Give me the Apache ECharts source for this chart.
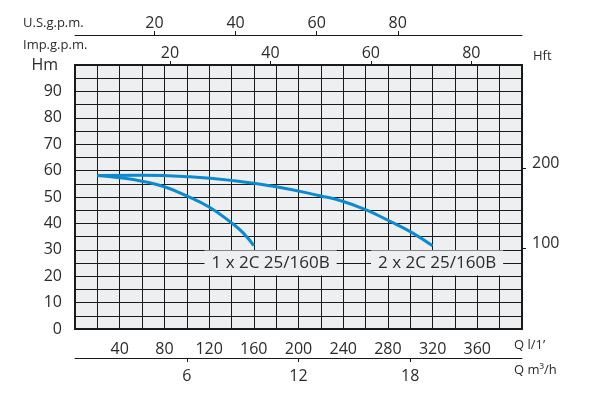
<!DOCTYPE html>
<html>
<head>
<meta charset="utf-8">
<script src="https://cdn.jsdelivr.net/npm/echarts@6/dist/echarts.min.js"></script>
<style>
  html, body { margin: 0; padding: 0; background: #fff; }
  #main { width: 591px; height: 397px; }
</style>
</head>
<body>
<div id="main"></div>
<script>
// 泵曲线数据 (Q 单位 l/min, H 单位 m)
const flow1 = [20, 40, 60, 80, 100, 120, 140, 150, 160]
const head1 = [58.1, 57.3, 56.0, 53.9, 50.4, 46.2, 40.2, 36.6, 31.6]
const flow2 = [20, 60, 100, 140, 180, 220, 240, 260, 280, 300, 320]
const head2 = [58.1, 58.2, 57.7, 56.3, 53.9, 50.4, 48.3, 45.2, 41.2, 36.9, 31.5]

const curveNames = ['1 x 2C 25/160B', '2 x 2C 25/160B']
const labelFlow = [175, 324]
const labelHead = 25

const m3hTicks = [6, 12, 18]
const impTicks = [20, 40, 60, 80]
const usTicks = [20, 40, 60, 80]
const hftTicks = [100, 200]

const font = 'Open Sans'
const textColor = '#2b2b2b'
const lineColor = '#1a1a1a'
const gridFill = '#eeeff1'
const blue = '#0a8ad0'

const pairs = (xs, ys) => xs.map((x, i) => [x, ys[i]])

let myChart = echarts.init(document.getElementById('main'))

const baseLabel = { fontFamily: font, fontSize: 16, color: textColor }
const axLine = { show: true, onZero: false, lineStyle: { color: lineColor, width: 1 } }

let option = {
  animation: false,
  grid: {
    left: 75, right: 69, top: 65, bottom: 68,
    show: true,
    backgroundColor: gridFill,
    borderColor: lineColor,
    borderWidth: 2,
  },
  xAxis: [
    {
      // l/min
      type: 'value', position: 'bottom', min: 0, max: 400, interval: 20,
      axisLine: { show: false, onZero: false }, axisTick: { show: false },
      splitLine: { show: true, lineStyle: { color: lineColor, width: 1 } },
      axisLabel: Object.assign({}, baseLabel, {
        margin: 12,
        formatter: (v) => (v % 40 === 0 && v > 0 && v < 400 ? v : ''),
      }),
    },
    {
      // m3/h
      type: 'value', position: 'bottom', offset: 29, min: 0, max: 24,
      axisLine: axLine,
      axisTick: { show: true, customValues: m3hTicks, length: 4, lineStyle: { color: lineColor } },
      splitLine: { show: false },
      axisLabel: Object.assign({}, baseLabel, { customValues: m3hTicks, margin: 10 }),
    },
    {
      // Imp.g.p.m.
      type: 'value', position: 'top', min: 1.08, max: 90.1,
      axisLine: { show: false, onZero: false },
      axisTick: { show: true, customValues: impTicks, length: 4, lineStyle: { color: lineColor } },
      splitLine: { show: false },
      axisLabel: Object.assign({}, baseLabel, { customValues: impTicks, margin: 4 }),
    },
    {
      // U.S.g.p.m.
      type: 'value', position: 'top', offset: 30, min: 0.39, max: 110.64,
      axisLine: axLine,
      axisTick: { show: true, customValues: usTicks, length: 4, lineStyle: { color: lineColor } },
      splitLine: { show: false },
      axisLabel: Object.assign({}, baseLabel, { customValues: usTicks, margin: 4 }),
    },
  ],
  yAxis: [
    {
      type: 'value', position: 'left', min: 0, max: 100, interval: 5,
      axisLine: { show: false, onZero: false }, axisTick: { show: false },
      splitLine: { show: true, lineStyle: { color: lineColor, width: 1 } },
      axisLabel: Object.assign({}, baseLabel, {
        margin: 13,
        formatter: (v) => (v === 100 ? '{h|Hm}' : v % 10 === 0 ? v : ''),
        rich: { h: { fontFamily: font, fontSize: 16, color: textColor, padding: [0, 4, 0, 0] } },
      }),
    },
    {
      // Hft
      type: 'value', position: 'right', min: 0, max: 328.084,
      axisLine: { show: false, onZero: false },
      axisTick: { show: true, customValues: hftTicks, length: 4, lineStyle: { color: lineColor } },
      splitLine: { show: false },
      axisLabel: Object.assign({}, baseLabel, {
        customValues: hftTicks, margin: 10, verticalAlign: 'bottom', lineHeight: 10,
      }),
    },
  ],
  graphic: [
    { type: 'text', left: 23, top: 17, style: { text: 'U.S.g.p.m.', font: '13px "Open Sans"', fill: textColor } },
    { type: 'text', left: 23, top: 39, style: { text: 'Imp.g.p.m.', font: '13px "Open Sans"', fill: textColor } },
    { type: 'text', left: 533, top: 50, style: { text: 'Hft', font: '13px "Open Sans"', fill: textColor } },
    { type: 'text', left: 514, top: 339, style: { text: 'Q l/1’', font: '13px "Open Sans"', fill: textColor } },
    { type: 'text', left: 514, top: 364, style: { text: 'Q m³/h', font: '13px "Open Sans"', fill: textColor } },
  ],
  series: [flow1, flow2].map((fl, i) => ({
    type: 'line',
    name: curveNames[i],
    xAxisIndex: 0,
    yAxisIndex: 0,
    data: pairs(fl, i === 0 ? head1 : head2),
    smooth: true,
    symbol: 'none',
    lineStyle: { color: blue, width: 3 },
    z: 5,
    markPoint: {
      symbol: 'rect',
      symbolSize: 1,
      itemStyle: { color: 'rgba(0,0,0,0)' },
      data: [{ coord: [labelFlow[i], labelHead] }],
      label: {
        show: true,
        position: 'inside',
        formatter: curveNames[i],
        fontFamily: font,
        fontSize: 17,
        lineHeight: 17,
        color: textColor,
        backgroundColor: gridFill,
        padding: [4, 7],
      },
    },
  })),
}

myChart.setOption(option)
</script>
</body>
</html>
